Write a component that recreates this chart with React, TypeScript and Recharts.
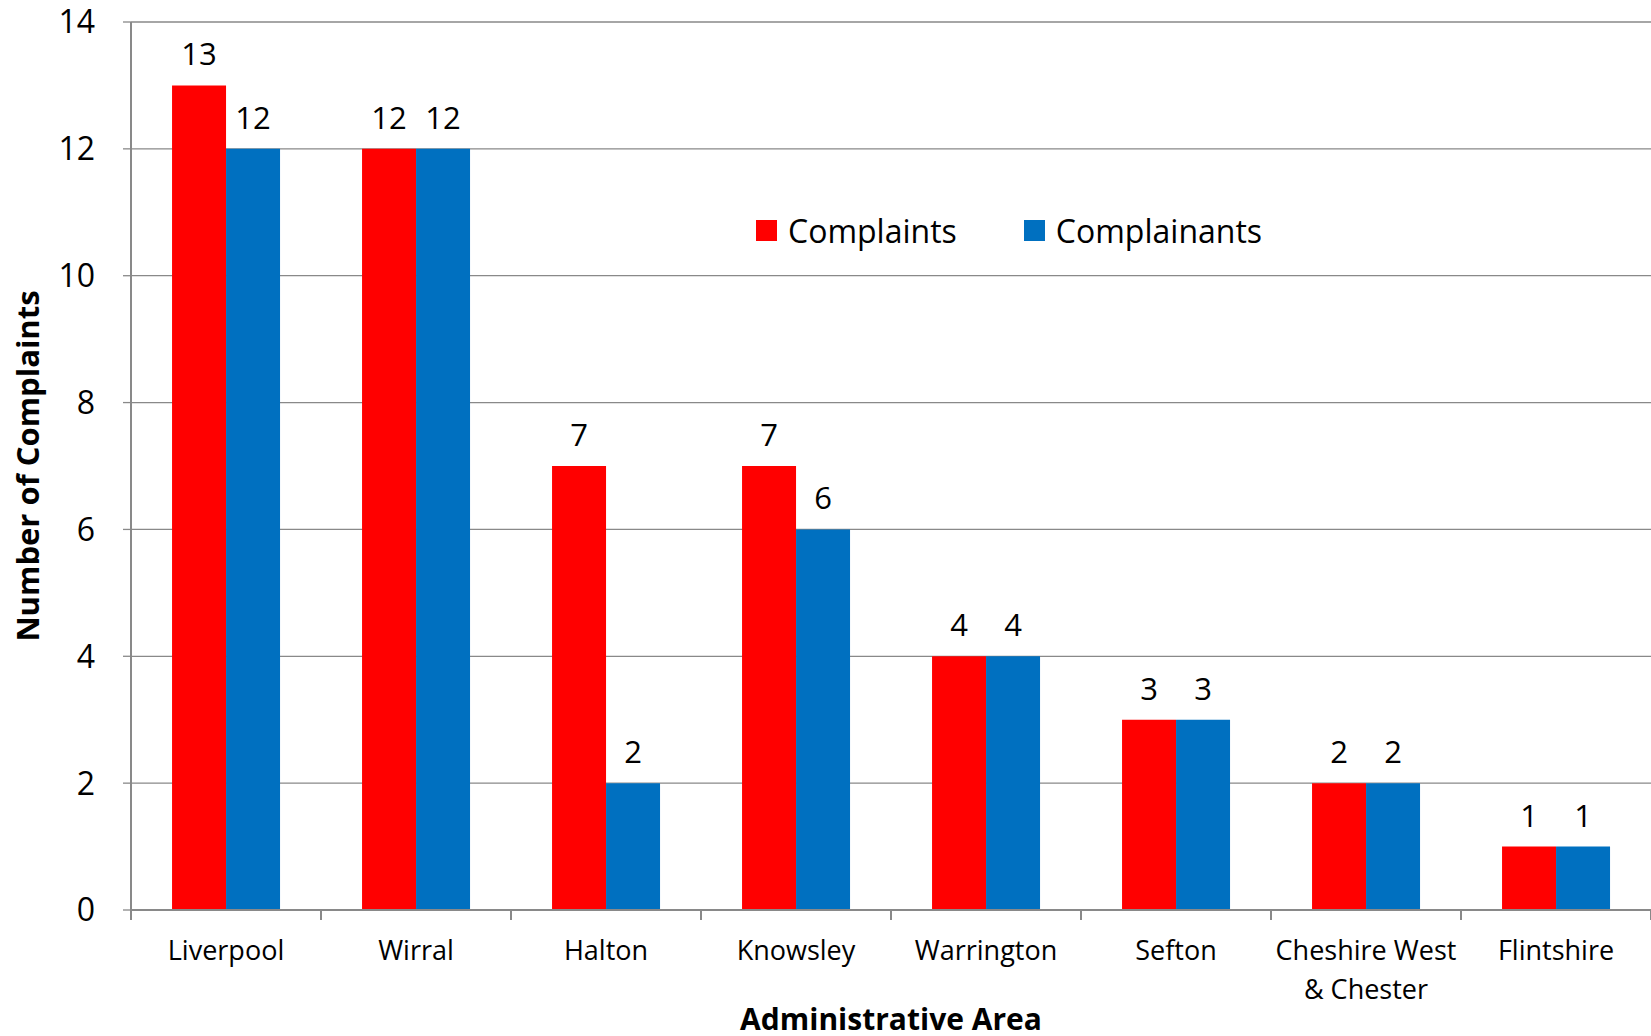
import React from 'react';
import { BarChart, Bar, XAxis, YAxis, CartesianGrid, Legend, LabelList, Label } from 'recharts';

const categories = ['Liverpool', 'Wirral', 'Halton', 'Knowsley', 'Warrington', 'Sefton', 'Cheshire West & Chester', 'Flintshire'];
const complaints = [13, 12, 7, 7, 4, 3, 2, 1];
const complainants = [12, 12, 2, 6, 4, 3, 2, 1];
const seriesNames = ['Complaints', 'Complainants'];
const yTicks = [0, 2, 4, 6, 8, 10, 12, 14];

const data = categories.map((c, i) => ({ area: c, Complaints: complaints[i], Complainants: complainants[i] }));

const FONT = '"Open Sans", sans-serif';
const GRID = '#898989';

function splitLabel(s: string): string[] {
  if (s.length <= 14) return [s];
  const mid = s.length / 2;
  let best = -1;
  for (let i = 0; i < s.length; i++) {
    if (s[i] === ' ' && (best < 0 || Math.abs(i - mid) < Math.abs(best - mid))) best = i;
  }
  if (best < 0) return [s];
  return [s.slice(0, best), s.slice(best + 1)];
}

const XTick = (props: any) => {
  const { x, y, payload, index, width, visibleTicksCount } = props;
  const count = visibleTicksCount || categories.length;
  const band = width / count;
  const lines = splitLabel(String(payload.value));
  return (
    <g>
      <line x1={x - band / 2} x2={x - band / 2} y1={y} y2={y + 10} stroke={GRID} strokeWidth={2} />
      {index === count - 1 && (
        <line x1={x + band / 2} x2={x + band / 2} y1={y} y2={y + 10} stroke={GRID} strokeWidth={2} />
      )}
      <text x={x} y={y + 50} textAnchor="middle" fontFamily={FONT} fontSize={27} fill="#000">
        {lines.map((l, i) => (
          <tspan key={i} x={x} dy={i === 0 ? 0 : 39}>{l}</tspan>
        ))}
      </text>
    </g>
  );
};

const LegendContent = (props: any) => {
  const payload = [...(props.payload || [])].sort(
    (a: any, b: any) => seriesNames.indexOf(a.value) - seriesNames.indexOf(b.value)
  );
  return (
    <div style={{ display: 'flex', alignItems: 'center', fontFamily: FONT, fontSize: 32, color: '#000' }}>
      {payload.map((p: any, i: number) => (
        <div key={i} style={{ display: 'flex', alignItems: 'center', marginRight: i === 0 ? 67 : 0 }}>
          <span style={{ display: 'inline-block', width: 21, height: 21, background: p.color, marginRight: 11 }} />
          <span>{p.value}</span>
        </div>
      ))}
    </div>
  );
};

export default function App() {
  return (
    <div style={{ position: 'absolute', left: 0, top: 0, width: 1651, height: 1036, background: '#fff' }}>
      <BarChart
        width={1651}
        height={1036}
        data={data}
        margin={{ top: 22, right: 0, bottom: 0, left: 0 }}
        barCategoryGap="21.6%"
        barGap={0}
      >
        <CartesianGrid vertical={false} stroke={GRID} strokeWidth={1.3} />
        <XAxis
          dataKey="area"
          height={126}
          tickSize={0}
          tickMargin={0}
          tick={<XTick />}
          interval={0}
          axisLine={{ stroke: GRID, strokeWidth: 2 }}
        >
          <Label
            value="Administrative Area"
            position="insideBottom"
            offset={6}
            style={{ fontFamily: FONT, fontSize: 30, fontWeight: 700, fill: '#000' }}
          />
        </XAxis>
        <YAxis
          width={131}
          domain={[0, 14]}
          ticks={yTicks}
          interval={0}
          tickSize={8}
          tickMargin={28}
          tickLine={{ stroke: GRID, strokeWidth: 1.3 }}
          axisLine={{ stroke: GRID, strokeWidth: 2 }}
          tick={{ fontFamily: FONT, fontSize: 32, fill: '#000' }}
        >
          <Label
            value="Number of Complaints"
            angle={-90}
            position="insideLeft"
            offset={28}
            style={{ fontFamily: FONT, fontSize: 31, fontWeight: 700, fill: '#000', textAnchor: 'middle' }}
          />
        </YAxis>
        <Legend
          layout="horizontal"
          verticalAlign="middle"
          align="center"
          content={<LegendContent />}
          wrapperStyle={{ position: 'absolute', left: 756, top: 209, width: 'auto' }}
        />
        <Bar dataKey="Complaints" fill="#FF0000" isAnimationActive={false}>
          <LabelList dataKey="Complaints" position="top" offset={20} style={{ fontFamily: FONT, fontSize: 31, fill: '#000' }} />
        </Bar>
        <Bar dataKey="Complainants" fill="#0070C0" isAnimationActive={false}>
          <LabelList dataKey="Complainants" position="top" offset={20} style={{ fontFamily: FONT, fontSize: 31, fill: '#000' }} />
        </Bar>
      </BarChart>
    </div>
  );
}
